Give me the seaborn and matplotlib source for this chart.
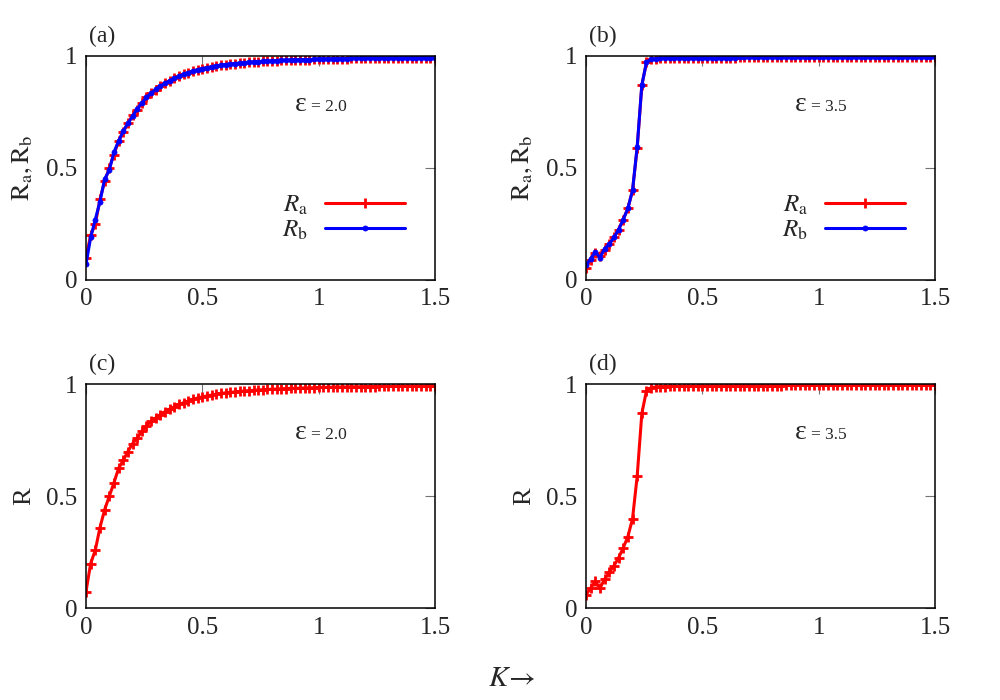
#!/usr/bin/env python3
# -*- coding: utf-8 -*-

import matplotlib
matplotlib.use("Agg")
import matplotlib.pyplot as plt
import pandas as pd
import seaborn as sns

# Coupling strength K (x axis)
K = [0.00, 0.02, 0.04, 0.06, 0.08, 0.10, 0.12, 0.14, 0.16, 0.18,
     0.20, 0.22, 0.24, 0.26, 0.28, 0.30, 0.32, 0.34, 0.36, 0.38,
     0.40, 0.42, 0.44, 0.46, 0.48, 0.50, 0.52, 0.54, 0.56, 0.58,
     0.60, 0.62, 0.64, 0.66, 0.68, 0.70, 0.72, 0.74, 0.76, 0.78,
     0.80, 0.82, 0.84, 0.86, 0.88, 0.90, 0.92, 0.94, 0.96, 0.98,
     1.00, 1.02, 1.04, 1.06, 1.08, 1.10, 1.12, 1.14, 1.16, 1.18,
     1.20, 1.22, 1.24, 1.26, 1.28, 1.30, 1.32, 1.34, 1.36, 1.38,
     1.40, 1.42, 1.44, 1.46, 1.48, 1.50]

# epsilon = 2.0
Ra_eps2 = [0.100, 0.200, 0.250, 0.360, 0.440, 0.500, 0.560, 0.620, 0.660, 0.700,
           0.735, 0.760, 0.790, 0.815, 0.835, 0.850, 0.865, 0.878, 0.890, 0.900,
           0.910, 0.918, 0.926, 0.933, 0.939, 0.944, 0.948, 0.952, 0.956, 0.959,
           0.962, 0.964, 0.966, 0.968, 0.970, 0.972, 0.973, 0.975, 0.976, 0.977,
           0.978, 0.979, 0.980, 0.981, 0.982, 0.982, 0.983, 0.984, 0.984, 0.985,
           0.986, 0.986, 0.987, 0.987, 0.988, 0.988, 0.988, 0.989, 0.989, 0.989,
           0.990, 0.990, 0.990, 0.991, 0.991, 0.991, 0.991, 0.992, 0.992, 0.992,
           0.992, 0.992, 0.993, 0.993, 0.993, 0.993]
Rb_eps2 = [0.070, 0.190, 0.270, 0.350, 0.450, 0.490, 0.570, 0.620, 0.665, 0.700,
           0.730, 0.765, 0.790, 0.815, 0.834, 0.851, 0.865, 0.878, 0.890, 0.900,
           0.910, 0.918, 0.926, 0.933, 0.939, 0.944, 0.948, 0.952, 0.956, 0.959,
           0.962, 0.964, 0.966, 0.968, 0.970, 0.972, 0.973, 0.975, 0.976, 0.977,
           0.978, 0.979, 0.980, 0.981, 0.982, 0.982, 0.983, 0.984, 0.984, 0.985,
           0.986, 0.986, 0.987, 0.987, 0.988, 0.988, 0.988, 0.989, 0.989, 0.989,
           0.990, 0.990, 0.990, 0.991, 0.991, 0.991, 0.991, 0.992, 0.992, 0.992,
           0.992, 0.992, 0.993, 0.993, 0.993, 0.993]
R_eps2 = [0.075, 0.200, 0.260, 0.360, 0.440, 0.500, 0.560, 0.625, 0.660, 0.700,
          0.735, 0.760, 0.790, 0.815, 0.835, 0.850, 0.865, 0.878, 0.890, 0.900,
          0.910, 0.918, 0.926, 0.933, 0.939, 0.944, 0.948, 0.952, 0.956, 0.959,
          0.962, 0.964, 0.966, 0.968, 0.970, 0.972, 0.973, 0.975, 0.976, 0.977,
          0.978, 0.979, 0.980, 0.981, 0.982, 0.982, 0.983, 0.984, 0.984, 0.985,
          0.986, 0.986, 0.987, 0.987, 0.988, 0.988, 0.988, 0.989, 0.989, 0.989,
          0.990, 0.990, 0.990, 0.991, 0.991, 0.991, 0.991, 0.992, 0.992, 0.992,
          0.992, 0.992, 0.993, 0.993, 0.993, 0.993]

# epsilon = 3.5
Ra_eps35 = [0.055, 0.090, 0.120, 0.105, 0.135, 0.160, 0.190, 0.225, 0.270, 0.320,
            0.400, 0.590, 0.870, 0.972, 0.985, 0.988, 0.990, 0.990, 0.991, 0.991,
            0.991, 0.992, 0.992, 0.992, 0.992, 0.992, 0.993, 0.993, 0.993, 0.993,
            0.993, 0.993, 0.993, 0.994, 0.994, 0.994, 0.994, 0.994, 0.994, 0.994,
            0.994, 0.994, 0.994, 0.995, 0.995, 0.995, 0.995, 0.995, 0.995, 0.995,
            0.995, 0.995, 0.995, 0.995, 0.995, 0.995, 0.995, 0.996, 0.996, 0.996,
            0.996, 0.996, 0.996, 0.996, 0.996, 0.996, 0.996, 0.996, 0.996, 0.996,
            0.996, 0.996, 0.996, 0.996, 0.996, 0.996]
Rb_eps35 = [0.065, 0.095, 0.125, 0.100, 0.140, 0.160, 0.190, 0.225, 0.270, 0.320,
            0.400, 0.595, 0.870, 0.972, 0.985, 0.988, 0.990, 0.990, 0.991, 0.991,
            0.991, 0.992, 0.992, 0.992, 0.992, 0.992, 0.993, 0.993, 0.993, 0.993,
            0.993, 0.993, 0.993, 0.994, 0.994, 0.994, 0.994, 0.994, 0.994, 0.994,
            0.994, 0.994, 0.994, 0.995, 0.995, 0.995, 0.995, 0.995, 0.995, 0.995,
            0.995, 0.995, 0.995, 0.995, 0.995, 0.995, 0.995, 0.996, 0.996, 0.996,
            0.996, 0.996, 0.996, 0.996, 0.996, 0.996, 0.996, 0.996, 0.996, 0.996,
            0.996, 0.996, 0.996, 0.996, 0.996, 0.996]
R_eps35 = [0.060, 0.090, 0.120, 0.090, 0.130, 0.160, 0.190, 0.225, 0.270, 0.320,
           0.400, 0.590, 0.870, 0.972, 0.985, 0.988, 0.990, 0.990, 0.991, 0.991,
           0.991, 0.992, 0.992, 0.992, 0.992, 0.992, 0.993, 0.993, 0.993, 0.993,
           0.993, 0.993, 0.993, 0.994, 0.994, 0.994, 0.994, 0.994, 0.994, 0.994,
           0.994, 0.994, 0.994, 0.995, 0.995, 0.995, 0.995, 0.995, 0.995, 0.995,
           0.995, 0.995, 0.995, 0.995, 0.995, 0.995, 0.995, 0.996, 0.996, 0.996,
           0.996, 0.996, 0.996, 0.996, 0.996, 0.996, 0.996, 0.996, 0.996, 0.996,
           0.996, 0.996, 0.996, 0.996, 0.996, 0.996]

X_TICKS = [0, 0.5, 1, 1.5]
X_TICK_LABELS = ["0", "0.5", "1", "1.5"]
Y_TICKS = [0, 0.5, 1]
Y_TICK_LABELS = ["0", "0.5", "1"]

df = pd.DataFrame({"K": K, "Ra_eps2": Ra_eps2, "Rb_eps2": Rb_eps2, "R_eps2": R_eps2,
                   "Ra_eps35": Ra_eps35, "Rb_eps35": Rb_eps35, "R_eps35": R_eps35})

# Style: gnuplot-like look
sns.set_theme(style="white")
plt.rcParams["font.family"] = ["Liberation Serif", "DejaVu Serif"]
plt.rcParams["mathtext.fontset"] = "stix"

fig = plt.figure(figsize=(10, 7), dpi=100)
pos = {
    "a": [0.086, 0.600, 0.349, 0.320],
    "b": [0.586, 0.600, 0.349, 0.320],
    "c": [0.086, 0.131, 0.349, 0.320],
    "d": [0.586, 0.131, 0.349, 0.320],
}
axes = {k: fig.add_axes(v) for k, v in pos.items()}


def red_line(ax, col, label=None):
    sns.lineplot(data=df, x="K", y=col, ax=ax, color="red", lw=2.2,
                 marker="+", markersize=7, mec="red", mew=2.0, label=label)


def blue_line(ax, col, label=None):
    sns.lineplot(data=df, x="K", y=col, ax=ax, color="blue", lw=2.2,
                 marker="o", markersize=3.6, mec="blue", mew=0.6, label=label)


red_line(axes["a"], "Ra_eps2", r"$R_{\mathrm{a}}$")
blue_line(axes["a"], "Rb_eps2", r"$R_{\mathrm{b}}$")
red_line(axes["b"], "Ra_eps35", r"$R_{\mathrm{a}}$")
blue_line(axes["b"], "Rb_eps35", r"$R_{\mathrm{b}}$")
red_line(axes["c"], "R_eps2")
red_line(axes["d"], "R_eps35")

eps_text = {"a": "2.0", "b": "3.5", "c": "2.0", "d": "3.5"}
ylabels = {"a": r"$\mathrm{R_a, R_b}$", "b": r"$\mathrm{R_a, R_b}$",
           "c": "R", "d": "R"}

for key, ax in axes.items():
    ax.set_xlim(0, 1.5)
    ax.set_ylim(0, 1)
    ax.set_xticks(X_TICKS)
    ax.set_xticklabels(X_TICK_LABELS)
    ax.set_yticks(Y_TICKS)
    ax.set_yticklabels(Y_TICK_LABELS)
    ax.tick_params(direction="in", length=7, width=0.8, color="0.45",
                   top=True, right=True, labelsize=18, pad=6)
    for sp in ax.spines.values():
        sp.set_visible(True)
        sp.set_color("black")
        sp.set_linewidth(1.1)
    ax.set_xlabel("")
    ax.set_ylabel(ylabels[key], fontsize=19, labelpad=8)
    ax.text(0.008, 1.04, f"({key})", transform=ax.transAxes,
            fontsize=17, ha="left", va="bottom")
    ax.text(0.598, 0.755, "\u03b5", transform=ax.transAxes,
            fontsize=20, ha="left", va="baseline")
    ax.text(0.645, 0.755, f"= {eps_text[key]}", transform=ax.transAxes,
            fontsize=12.5, ha="left", va="baseline")
    if key in ("a", "b"):
        ax.legend(loc="center right", bbox_to_anchor=(0.915, 0.277),
                  frameon=False, markerfirst=False, fontsize=18,
                  handlelength=3.2, handletextpad=0.7, labelspacing=0.05,
                  borderpad=0, borderaxespad=0)
    elif ax.get_legend() is not None:
        ax.get_legend().remove()

fig.text(0.512, 0.030, r"$K\!\rightarrow$", fontsize=21, ha="center", va="center")

fig.savefig("out.png", dpi=100)
